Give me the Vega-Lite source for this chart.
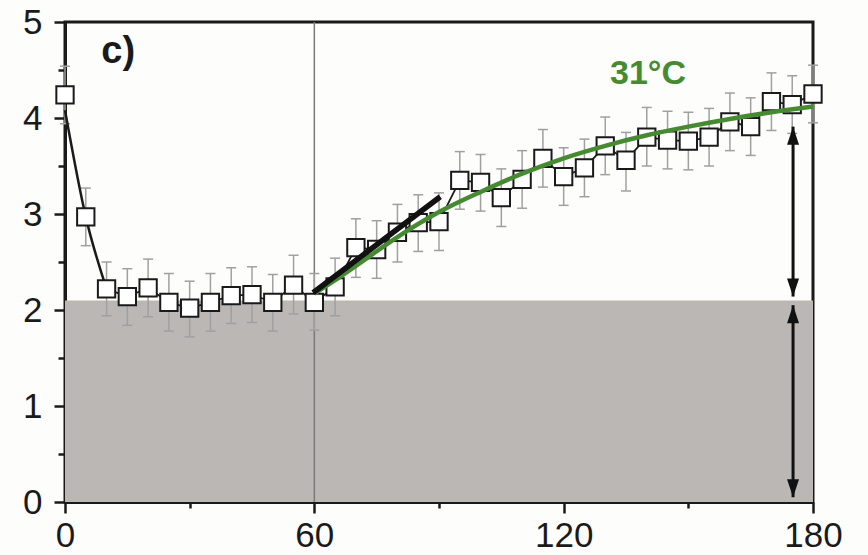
{
  "$schema": "https://vega.github.io/schema/vega-lite/v6.json",
  "autosize": "none",
  "width": 748,
  "height": 480,
  "padding": {"left": 65, "top": 22, "right": 55, "bottom": 53},
  "background": "#fdfdfc",
  "config": {
    "view": {"stroke": "#1a1a1a", "strokeWidth": 3},
    "axis": {
      "labelFont": "Liberation Sans",
      "labelFontSize": 35,
      "labelColor": "#1a1a1a",
      "domainColor": "#1a1a1a",
      "domainWidth": 3,
      "tickColor": "#1a1a1a",
      "tickWidth": 2.5,
      "grid": false,
      "title": null
    }
  },
  "datasets": {
    "pts": [
      {"t": 0, "v": 4.24, "lo": 3.94, "hi": 4.54},
      {"t": 5, "v": 2.97, "lo": 2.67, "hi": 3.27},
      {"t": 10, "v": 2.22, "lo": 1.94, "hi": 2.5},
      {"t": 15, "v": 2.14, "lo": 1.84, "hi": 2.43},
      {"t": 20, "v": 2.23, "lo": 1.93, "hi": 2.53},
      {"t": 25, "v": 2.08, "lo": 1.78, "hi": 2.38},
      {"t": 30, "v": 2.02, "lo": 1.72, "hi": 2.3},
      {"t": 35, "v": 2.08, "lo": 1.78, "hi": 2.38},
      {"t": 40, "v": 2.15, "lo": 1.86, "hi": 2.44},
      {"t": 45, "v": 2.16, "lo": 1.87, "hi": 2.45},
      {"t": 50, "v": 2.08, "lo": 1.78, "hi": 2.37},
      {"t": 55, "v": 2.26, "lo": 1.96, "hi": 2.57},
      {"t": 60, "v": 2.08, "lo": 1.79, "hi": 2.38},
      {"t": 65, "v": 2.24, "lo": 1.94, "hi": 2.54},
      {"t": 70, "v": 2.65, "lo": 2.34, "hi": 2.95},
      {"t": 75, "v": 2.63, "lo": 2.33, "hi": 2.93},
      {"t": 80, "v": 2.81, "lo": 2.5, "hi": 3.1},
      {"t": 85, "v": 2.91, "lo": 2.61, "hi": 3.2},
      {"t": 90, "v": 2.92, "lo": 2.62, "hi": 3.22},
      {"t": 95, "v": 3.35, "lo": 3.05, "hi": 3.65},
      {"t": 100, "v": 3.33, "lo": 3.03, "hi": 3.62},
      {"t": 105, "v": 3.17, "lo": 2.87, "hi": 3.47},
      {"t": 110, "v": 3.36, "lo": 3.06, "hi": 3.66},
      {"t": 115, "v": 3.58, "lo": 3.28, "hi": 3.88},
      {"t": 120, "v": 3.39, "lo": 3.09, "hi": 3.69},
      {"t": 125, "v": 3.48, "lo": 3.18, "hi": 3.78},
      {"t": 130, "v": 3.71, "lo": 3.41, "hi": 4.01},
      {"t": 135, "v": 3.56, "lo": 3.24, "hi": 3.85},
      {"t": 140, "v": 3.8, "lo": 3.5, "hi": 4.11},
      {"t": 145, "v": 3.77, "lo": 3.47, "hi": 4.07},
      {"t": 150, "v": 3.76, "lo": 3.46, "hi": 4.06},
      {"t": 155, "v": 3.8, "lo": 3.5, "hi": 4.1},
      {"t": 160, "v": 3.96, "lo": 3.66, "hi": 4.26},
      {"t": 165, "v": 3.91, "lo": 3.61, "hi": 4.21},
      {"t": 170, "v": 4.17, "lo": 3.87, "hi": 4.47},
      {"t": 175, "v": 4.14, "lo": 3.84, "hi": 4.44},
      {"t": 180, "v": 4.25, "lo": 3.95, "hi": 4.55}
    ],
    "fit0": [
      {"t": 0, "v": 4.08},
      {"t": 5, "v": 2.97},
      {"t": 10, "v": 2.22}
    ],
    "green": [
      {"t": 60, "v": 2.17},
      {"t": 65, "v": 2.31},
      {"t": 70, "v": 2.46},
      {"t": 80, "v": 2.76},
      {"t": 90, "v": 3.02},
      {"t": 100, "v": 3.23},
      {"t": 110, "v": 3.42},
      {"t": 120, "v": 3.58},
      {"t": 130, "v": 3.71},
      {"t": 140, "v": 3.82},
      {"t": 150, "v": 3.91},
      {"t": 160, "v": 3.99},
      {"t": 170, "v": 4.06},
      {"t": 180, "v": 4.12}
    ],
    "tangent": [
      {"t": 59.7, "v": 2.18},
      {"t": 90.3, "v": 3.18}
    ],
    "shade": [{"t": 0, "t2": 180, "v": 0, "v2": 2.1}],
    "vline": [{"t": 60, "v": 0, "v2": 5}],
    "arrows": [
      {"t": 175.2, "v": 2.14, "v2": 3.91},
      {"t": 175.2, "v": 0.05, "v2": 2.05}
    ],
    "heads": [
      {"t": 175.2, "v": 3.91, "dir": "up"},
      {"t": 175.2, "v": 2.14, "dir": "down"},
      {"t": 175.2, "v": 2.05, "dir": "up"},
      {"t": 175.2, "v": 0.05, "dir": "down"}
    ],
    "labels": [
      {"t": 12.8, "v": 4.57, "text": "c)", "kind": "panel"},
      {"t": 140.3, "v": 4.46, "text": "31°C", "kind": "temp"}
    ]
  },
  "encoding": {
    "x": {
      "field": "t",
      "type": "quantitative",
      "scale": {"domain": [0, 180], "nice": false, "zero": false},
      "axis": {
        "values": [0, 30, 60, 90, 120, 150, 180],
        "labelExpr": "datum.value % 60 === 0 ? format(datum.value, 'd') : ''",
        "tickSize": {"condition": {"test": "datum.value % 60 === 0", "value": 11}, "value": 6},
        "labelPadding": 5,
        "labelFlush": false
      }
    },
    "y": {
      "field": "v",
      "type": "quantitative",
      "scale": {"domain": [0, 5], "nice": false, "zero": false},
      "axis": {
        "values": [0, 0.5, 1, 1.5, 2, 2.5, 3, 3.5, 4, 4.5, 5],
        "labelExpr": "datum.value % 1 === 0 ? format(datum.value, 'd') : ''",
        "tickSize": {"condition": {"test": "datum.value % 1 === 0", "value": 11}, "value": 7},
        "labelPadding": 12,
        "labelFlush": false
      }
    }
  },
  "layer": [
    {
      "data": {"name": "shade"},
      "mark": {"type": "rect", "color": "#bab7b4"},
      "encoding": {"x2": {"field": "t2"}, "y2": {"field": "v2"}}
    },
    {
      "data": {"name": "vline"},
      "mark": {"type": "rule", "color": "#7a7a7a", "strokeWidth": 1.5},
      "encoding": {"y2": {"field": "v2"}}
    },
    {
      "data": {"name": "pts"},
      "mark": {"type": "rule", "color": "#a0a0a0", "strokeWidth": 1.5},
      "encoding": {"y": {"field": "lo", "type": "quantitative"}, "y2": {"field": "hi"}}
    },
    {
      "data": {"name": "pts"},
      "mark": {"type": "tick", "orient": "horizontal", "color": "#a0a0a0", "size": 10, "thickness": 1.5, "opacity": 1},
      "encoding": {"y": {"field": "lo", "type": "quantitative"}}
    },
    {
      "data": {"name": "pts"},
      "mark": {"type": "tick", "orient": "horizontal", "color": "#a0a0a0", "size": 10, "thickness": 1.5, "opacity": 1},
      "encoding": {"y": {"field": "hi", "type": "quantitative"}}
    },
    {
      "data": {"name": "fit0"},
      "mark": {"type": "line", "color": "#1a1a1a", "strokeWidth": 2.5, "interpolate": "monotone"},
      "encoding": {}
    },
    {
      "data": {"name": "pts"},
      "transform": [{"filter": "datum.t >= 10"}],
      "mark": {"type": "line", "color": "#1a1a1a", "strokeWidth": 1.8},
      "encoding": {}
    },
    {
      "data": {"name": "pts"},
      "mark": {"type": "point", "shape": "square", "filled": true, "fill": "#ffffff", "stroke": "#1a1a1a", "strokeWidth": 2, "size": 300, "opacity": 1},
      "encoding": {}
    },
    {
      "data": {"name": "green"},
      "mark": {"type": "line", "color": "#468b32", "strokeWidth": 4.5, "interpolate": "monotone"},
      "encoding": {}
    },
    {
      "data": {"name": "tangent"},
      "mark": {"type": "line", "color": "#111111", "strokeWidth": 5.5},
      "encoding": {}
    },
    {
      "data": {"name": "arrows"},
      "mark": {"type": "rule", "color": "#111111", "strokeWidth": 3},
      "encoding": {"y2": {"field": "v2"}}
    },
    {
      "data": {"name": "heads"},
      "transform": [{"filter": "datum.dir === 'up'"}],
      "mark": {"type": "point", "shape": "M0,0L-1,3L1,3Z", "filled": true, "color": "#111111", "size": 144, "opacity": 1},
      "encoding": {}
    },
    {
      "data": {"name": "heads"},
      "transform": [{"filter": "datum.dir === 'down'"}],
      "mark": {"type": "point", "shape": "M0,0L-1,-3L1,-3Z", "filled": true, "color": "#111111", "size": 144, "opacity": 1},
      "encoding": {}
    },
    {
      "data": {"name": "labels"},
      "transform": [{"filter": "datum.kind === 'panel'"}],
      "mark": {"type": "text", "font": "Liberation Sans", "fontWeight": "bold", "fontSize": 38, "color": "#1a1a1a", "align": "center", "baseline": "alphabetic"},
      "encoding": {"text": {"field": "text"}}
    },
    {
      "data": {"name": "labels"},
      "transform": [{"filter": "datum.kind === 'temp'"}],
      "mark": {"type": "text", "font": "Liberation Sans", "fontWeight": "bold", "fontSize": 34, "color": "#468b32", "align": "center", "baseline": "middle"},
      "encoding": {"text": {"field": "text"}}
    }
  ]
}
